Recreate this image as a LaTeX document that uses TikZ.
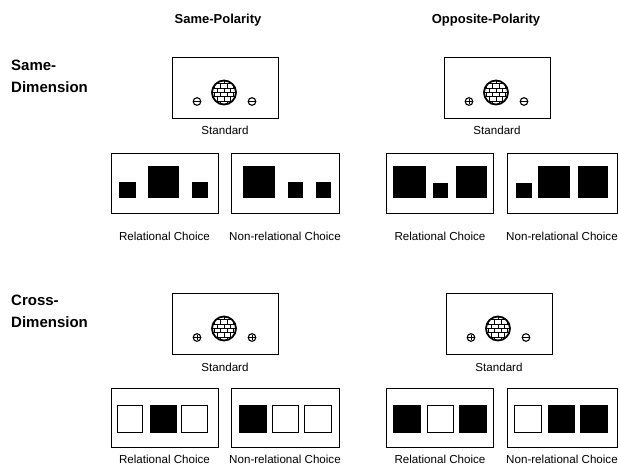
\documentclass[tikz,border=0pt]{standalone}
\usepackage{fontspec}
\setmainfont{Liberation Sans}
\usetikzlibrary{positioning}

\tikzset{
  panel/.style={draw, line width=1pt},
  hdr/.style={font=\fontsize{13}{15}\selectfont\bfseries, inner sep=0pt},
  rowhdr/.style={font=\fontsize{15}{17}\selectfont\bfseries, inner sep=0pt, anchor=west},
  lbl/.style={font=\fontsize{11.6}{13}\selectfont, inner sep=0pt},
  wsq/.style={draw, line width=0.7pt, fill=white},
  pics/kminus/.style={code={
    \draw[line width=1.1pt, fill=white] (0,0) circle (3.8);
    \draw[line width=1pt] (-2.8,0) -- (2.8,0);
  }},
  pics/kplus/.style={code={
    \draw[line width=1.1pt, fill=white] (0,0) circle (3.8);
    \draw[line width=1pt] (-2.8,0) -- (2.8,0) (0,-2.8) -- (0,2.8);
  }},
  pics/stdpanel/.style 2 args={code={
    \draw[panel] (-53,-30.5) rectangle (53,30.5);
    % brick ball
    \begin{scope}[shift={(-1,5)}]
      \clip (0,0) circle (12);
      \foreach \r [count=\k, evaluate=\k as \sh using {mod(\k,2)*3.2}] in {-13.2,-8.8,-4.4,0,4.4,8.8} {
        \draw[line width=0.9pt] (-14,\r) -- (14,\r);
        \foreach \c in {-16,-9.6,...,16}
          \draw[line width=0.9pt] (\c+\sh,\r) -- ++(0,4.4);
      }
    \end{scope}
    \draw[line width=1.8pt] (-1,5) circle (12);
    \pic at (-28,14) {#1};
    \pic at (27,14) {#2};
  }},
}

\begin{document}
\begin{tikzpicture}[x=1pt, y=-1pt]
  \useasboundingbox (0,0) rectangle (619,466);
  %\draw [help lines, step=20] (0,0) grid (619,466);

  % column and row headings
  \node[hdr] (samepol) at (218,20) {Same-Polarity};
  \node[hdr] (opppol) at (486,20) {Opposite-Polarity};
  \node[rowhdr] (samedimA) at (11,65) {Same-};
  \node[rowhdr] (samedimB) at (11,87) {Dimension};
  \node[rowhdr] (crossdimA) at (11,300) {Cross-};
  \node[rowhdr] (crossdimB) at (11,322) {Dimension};

  % standards
  \pic at (225,87.5) {stdpanel={kminus}{kminus}};
  \pic at (497,87.5) {stdpanel={kplus}{kminus}};
  \pic at (225,323.5) {stdpanel={kplus}{kplus}};
  \pic at (499,323.5) {stdpanel={kplus}{kminus}};
  \node[lbl] (std1) at (225,130) {Standard};
  \node[lbl] (std2) at (497,130) {Standard};
  \node[lbl] (std3) at (225,367) {Standard};
  \node[lbl] (std4) at (499,367) {Standard};

  % choice panels, same dimension
  \foreach \xa/\xb in {111/218, 231/339, 386/493, 507/617}
    \draw[panel] (\xa,153) rectangle (\xb,213);
  \foreach \xa/\ya/\xb in {119/182/136, 148/166/179, 192/182/208,
                           243/166/275, 288/182/303, 316/182/331,
                           393/166/426, 433/183/448, 456/166/487,
                           516/183/532, 538/166/570, 578/166/608}
    \fill (\xa,\ya) rectangle (\xb,198);
  \node[lbl] (rel1) at (164.5,236) {Relational Choice};
  \node[lbl] (nrel1) at (285,236) {Non-relational Choice};
  \node[lbl] (rel2) at (440,236) {Relational Choice};
  \node[lbl] (nrel2) at (562,236) {Non-relational Choice};

  % choice panels, cross dimension
  \foreach \xa/\xb in {111/218, 231/339, 386/493, 507/617}
    \draw[panel] (\xa,388) rectangle (\xb,447);
  \foreach \xa/\xb/\f in {117/142/white, 150/176/black, 181/207/white,
                          239/266/black, 272/298/white, 304/331/white,
                          393/420/black, 427/453/white, 459/486/black,
                          514/541/white, 548/574/black, 580/607/black}
    \draw[wsq, fill=\f] (\xa,405) rectangle (\xb,432);
  \node[lbl] (rel3) at (164.5,459) {Relational Choice};
  \node[lbl] (nrel3) at (285,459) {Non-relational Choice};
  \node[lbl] (rel4) at (440,459) {Relational Choice};
  \node[lbl] (nrel4) at (562,459) {Non-relational Choice};
\end{tikzpicture}
\end{document}
